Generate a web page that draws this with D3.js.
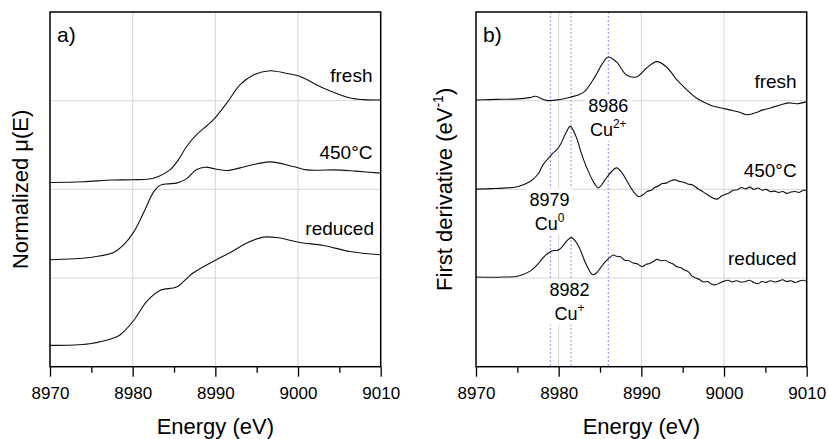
<!DOCTYPE html>
<html lang="en">
  <head>
    <meta charset="UTF-8" />
    <title>Cu K-edge XANES</title>
    <style>
      body { margin: 0; background: #fff; }
      text { font-family: "Liberation Sans", Arial, sans-serif; fill: #000; }
    </style>
  </head>
  <body>
    <script src="https://d3js.org/d3.v7.min.js"></script>
    <script>
var energyTicks = [8970, 8980, 8990, 9000, 9010];
var minorTicks = [8975, 8985, 8995, 9005];
var gridE = [8980, 8990, 9000];
var gridY = [1, 2, 3];

// a) normalized mu(E), offset per sample
var freshE_a = [8970, 8974, 8977.5, 8980, 8982.5, 8984.5, 8985.5, 8986.5, 8987.7, 8989, 8990, 8991.4, 8993, 8994.6, 8996.6, 8998.5, 9000.2, 9003.1, 9006.3, 9008, 9010];
var freshMu = [2.077, 2.085, 2.105, 2.108, 2.126, 2.22, 2.33, 2.48, 2.614, 2.72, 2.81, 2.975, 3.18, 3.29, 3.337, 3.31, 3.275, 3.14, 3.03, 3.012, 3.008];
var calcE_a = [8970, 8974.8, 8977.7, 8978.9, 8980.1, 8981.3, 8982.5, 8983.3, 8984.3, 8985.3, 8986.5, 8987.7, 8988.8, 8990, 8991.4, 8993.8, 8996.6, 8999.4, 9001, 9002.5, 9004.3, 9007, 9010];
var calcMu = [1.206, 1.232, 1.288, 1.375, 1.515, 1.732, 1.966, 2.045, 2.062, 2.07, 2.118, 2.22, 2.25, 2.23, 2.212, 2.261, 2.31, 2.257, 2.22, 2.215, 2.22, 2.205, 2.183];
var redE_a = [8970, 8974.8, 8977.7, 8978.5, 8980.1, 8981.7, 8983.3, 8985.3, 8986.5, 8987.3, 8990.1, 8991.7, 8993.8, 8995.8, 8997.4, 9000.2, 9003.1, 9006.3, 9010];
var redMu = [0.24, 0.259, 0.323, 0.361, 0.518, 0.736, 0.86, 0.898, 0.99, 1.056, 1.206, 1.281, 1.394, 1.461, 1.457, 1.401, 1.367, 1.299, 1.262];

// b) first derivative, offset per sample
var freshE_b = [8970, 8971.5, 8973.3, 8975, 8976.5, 8977.2, 8978.5, 8980, 8981.4, 8983, 8984.4, 8985.3, 8986, 8987, 8988.2, 8989.4, 8990.6, 8991.85, 8993.05, 8994.3, 8995.1, 8996.7, 8998.3, 8999.5, 9000.7, 9001.7, 9002.7, 9003.7, 9004.7, 9005.7, 9006.8, 9007.8, 9008.8, 9010];
var freshD = [3.008, 3.012, 3.016, 3.02, 3.034, 3.05, 3.003, 3.01, 3.039, 3.093, 3.271, 3.42, 3.493, 3.437, 3.29, 3.268, 3.366, 3.44, 3.38, 3.234, 3.158, 3.028, 2.952, 2.92, 2.896, 2.875, 2.842, 2.86, 2.896, 2.92, 2.952, 2.975, 2.965, 2.989];
var calcE_b = [8970, 8972, 8973.3, 8975, 8976.5, 8977.5, 8978.1, 8978.9, 8979.3, 8979.8, 8980.3, 8980.9, 8981.4, 8982.1, 8982.7, 8983.3, 8984.3, 8984.8, 8985.6, 8986.3, 8987, 8987.7, 8988.3, 8989, 8989.7, 8990.2, 8990.7, 8991.2, 8991.6, 8992.1, 8992.5, 8993, 8993.5, 8994.1, 8994.6, 8995.1, 8995.6, 8996.2, 8996.8, 8997.4, 8998, 8998.6, 8999.2, 8999.7, 9000.2, 9000.6, 9001.1, 9001.6, 9002.1, 9002.6, 9003.1, 9003.6, 9004.1, 9004.6, 9005.1, 9005.6, 9006.1, 9006.6, 9007.1, 9007.6, 9008.1, 9008.6, 9009.1, 9009.6, 9010];
var calcD = [2.002, 2.008, 2.014, 2.03, 2.085, 2.17, 2.276, 2.366, 2.408, 2.45, 2.521, 2.64, 2.71, 2.595, 2.42, 2.265, 2.07, 2.017, 2.107, 2.19, 2.242, 2.18, 2.088, 1.98, 1.919, 1.94, 1.975, 1.99, 2.02, 2.04, 2.065, 2.07, 2.095, 2.107, 2.09, 2.08, 2.06, 2.05, 2.01, 1.975, 1.94, 1.905, 1.89, 1.925, 1.945, 1.96, 1.99, 1.995, 2.02, 2.005, 2.025, 2.0, 2.015, 1.99, 2.0, 1.975, 1.98, 1.965, 1.975, 1.955, 1.97, 1.975, 1.965, 1.99, 1.986];
var redE_b = [8970, 8972, 8973.3, 8975, 8976.5, 8977.5, 8978.1, 8978.9, 8979.4, 8979.9, 8980.3, 8980.7, 8981.1, 8981.5, 8982, 8982.5, 8983.3, 8984.1, 8984.6, 8985.1, 8985.6, 8986.1, 8986.6, 8987, 8987.5, 8988, 8988.5, 8989, 8989.5, 8990.1, 8990.6, 8991, 8991.5, 8991.9, 8992.4, 8992.9, 8993.3, 8993.8, 8994.3, 8994.8, 8995.2, 8995.7, 8996.1, 8996.6, 8997, 8997.5, 8998, 8998.5, 8999, 8999.5, 9000, 9000.5, 9001, 9001.5, 9002, 9002.6, 9003.1, 9003.6, 9004.1, 9004.6, 9005.1, 9005.6, 9006.1, 9006.6, 9007.1, 9007.6, 9008.1, 9008.6, 9009.1, 9009.6, 9010];
var redD = [1.011, 1.008, 1.011, 1.02, 1.075, 1.16, 1.228, 1.29, 1.31, 1.313, 1.34, 1.386, 1.43, 1.456, 1.42, 1.341, 1.161, 1.037, 1.06, 1.121, 1.18, 1.225, 1.26, 1.245, 1.24, 1.2, 1.195, 1.17, 1.16, 1.13, 1.155, 1.165, 1.19, 1.21, 1.195, 1.2, 1.177, 1.16, 1.127, 1.115, 1.09, 1.07, 1.025, 1.0, 0.985, 0.955, 0.96, 0.93, 0.924, 0.945, 0.965, 0.975, 0.955, 0.97, 0.955, 0.961, 0.975, 0.95, 0.935, 0.96, 0.95, 0.97, 0.955, 0.965, 0.98, 0.96, 0.97, 0.95, 0.965, 0.975, 0.961];

// edge markers in b)
var markerE = [8979, 8981.5, 8986];
var markerLabels = [["8979", "Cu", "0"], ["8982", "Cu", "+"], ["8986", "Cu", "2+"]];

function pts(xs, ys) {
  return xs.map(function(x, i) { return { x: x, y: ys[i] }; });
}

var W = 828, H = 439, plotTop = 12, plotBottom = 366.7;

var svg = d3.select("body").append("svg")
  .attr("width", W)
  .attr("height", H);

var panels = [
  {
    left: 50, right: 380.7, tag: "a)", ytitle: "Normalized \u03bc(E)", titleX: 28,
    series: [pts(freshE_a, freshMu), pts(calcE_a, calcMu), pts(redE_a, redMu)],
    names: [{ t: "fresh", x: 372.5, y: 82 }, { t: "450\u00b0C", x: 372.5, y: 159 }, { t: "reduced", x: 374, y: 235 }]
  },
  {
    left: 476, right: 806.7, tag: "b)", ytitle: "First derivative (eV", titleX: 452,
    series: [pts(freshE_b, freshD), pts(calcE_b, calcD), pts(redE_b, redD)],
    names: [{ t: "fresh", x: 796.7, y: 88 }, { t: "450\u00b0C", x: 796.7, y: 177 }, { t: "reduced", x: 796.7, y: 265 }]
  }
];

panels.forEach(function(p, pi) {
  var x = d3.scaleLinear().domain([8970, 9010]).range([p.left, p.right]);
  var y = d3.scaleLinear().domain([0, 4]).range([plotBottom, plotTop]);
  var g = svg.append("g");

  // grid
  g.selectAll(".vgrid").data(gridE).enter().append("line")
    .attr("x1", function(d) { return x(d); }).attr("x2", function(d) { return x(d); })
    .attr("y1", plotTop).attr("y2", plotBottom)
    .attr("stroke", "#d6d6d6").attr("stroke-width", 1);
  g.selectAll(".hgrid").data(gridY).enter().append("line")
    .attr("x1", p.left).attr("x2", p.right)
    .attr("y1", function(d) { return y(d); }).attr("y2", function(d) { return y(d); })
    .attr("stroke", "#d6d6d6").attr("stroke-width", 1);

  if (pi == 1) {
    g.selectAll(".marker").data(markerE).enter().append("line")
      .attr("x1", function(d) { return x(d); }).attr("x2", function(d) { return x(d); })
      .attr("y1", plotTop).attr("y2", plotBottom)
      .attr("stroke", "#8c8cff").attr("stroke-width", 1)
      .attr("stroke-dasharray", "2,2");

    // label positions: [energy, baseline value of number, baseline value of Cu]
    var lblPos = [[8978.9, 1.817, 1.544], [8981.3, 0.8, 0.53], [8986, 2.877, 2.603]];
    markerLabels.forEach(function(m, i) {
      var lg = g.append("g");
      var box = lg.append("rect").attr("fill", "#fff");
      lg.append("text")
        .attr("x", x(lblPos[i][0])).attr("y", y(lblPos[i][1]))
        .attr("text-anchor", "middle").attr("font-size", 18)
        .text(m[0]);
      var t = lg.append("text")
        .attr("x", x(lblPos[i][0])).attr("y", y(lblPos[i][2]))
        .attr("text-anchor", "middle").attr("font-size", 18);
      t.append("tspan").text(m[1]);
      t.append("tspan").attr("font-size", 12).attr("dy", -8).text(m[2]);
      var bb = lg.node().getBBox();
      box.attr("x", bb.x - 3).attr("y", bb.y - 1).attr("width", bb.width + 6).attr("height", bb.height + 2);
    });
  }

  var line = d3.line()
    .x(function(d) { return x(d.x); })
    .y(function(d) { return y(d.y); })
    .curve(d3.curveCatmullRom.alpha(0.5));

  g.selectAll(".spec").data(p.series).enter().append("path")
    .attr("d", line)
    .attr("fill", "none")
    .attr("stroke", "#111")
    .attr("stroke-width", 1.1);

  // frame
  g.append("rect")
    .attr("x", p.left).attr("y", plotTop)
    .attr("width", p.right - p.left).attr("height", plotBottom - plotTop)
    .attr("fill", "none").attr("stroke", "#000").attr("stroke-width", 1.5);

  // x axis
  var ax = g.append("g").attr("transform", "translate(0," + plotBottom + ")")
    .call(d3.axisBottom(x).tickValues(energyTicks).tickSize(10).tickFormat(d3.format("d")));
  ax.select(".domain").remove();
  ax.selectAll("line").attr("stroke-width", 1.3);
  ax.selectAll("text").attr("y", 32.5).attr("dy", null)
    .attr("font-size", 17).attr("font-family", "Liberation Sans, Arial, sans-serif");
  var mx = g.append("g").attr("transform", "translate(0," + plotBottom + ")")
    .call(d3.axisBottom(x).tickValues(minorTicks).tickSize(6).tickFormat(""));
  mx.select(".domain").remove();
  mx.selectAll("line").attr("stroke-width", 1.3);

  g.append("text")
    .attr("x", (p.left + p.right) / 2).attr("y", 434)
    .attr("text-anchor", "middle").attr("font-size", 22)
    .text("Energy (eV)");

  var yt = g.append("text")
    .attr("transform", "translate(" + p.titleX + "," + ((plotTop + plotBottom) / 2) + ") rotate(-90)")
    .attr("text-anchor", "middle").attr("font-size", 22);
  yt.append("tspan").text(p.ytitle);
  if (pi == 1) {
    yt.append("tspan").attr("font-size", 14).attr("dy", -9).text("-1");
    yt.append("tspan").attr("dy", 9).text(")");
  }

  g.append("text")
    .attr("x", p.left + 7).attr("y", 42)
    .attr("font-size", 21)
    .text(p.tag);

  g.selectAll(".name").data(p.names).enter().append("text")
    .attr("x", function(d) { return d.x; })
    .attr("y", function(d) { return d.y; })
    .attr("text-anchor", "end").attr("font-size", 19)
    .text(function(d) { return d.t; });
});
</script>
  </body>
</html>
